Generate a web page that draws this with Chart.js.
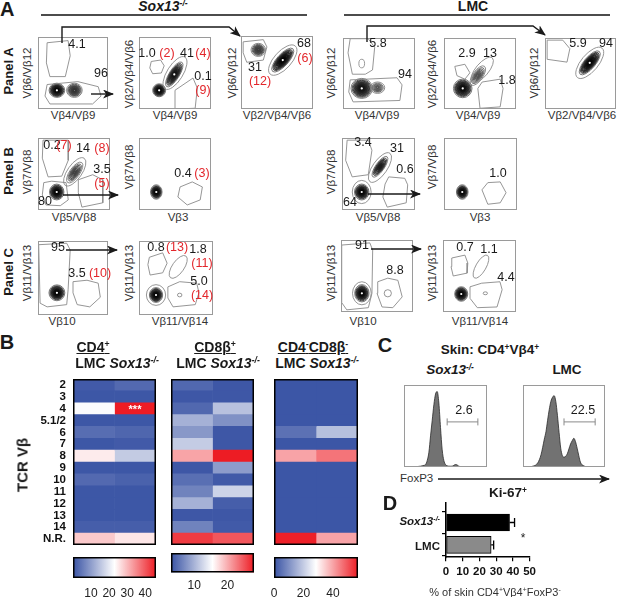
<!DOCTYPE html>
<html>
<head>
<meta charset="utf-8">
<script src="https://cdn.jsdelivr.net/npm/chart.js@4.4.0/dist/chart.umd.min.js"></script>
<style>
  body { margin: 0; width: 617px; height: 597px; position: relative; overflow: hidden; background: #fff;
         font-family: Arial, "Liberation Sans", sans-serif; color: #1a1a1a; }
  canvas { position: absolute; }
  .t { position: absolute; white-space: nowrap; line-height: 1; transform: translate(-50%, -50%); }
  sup { font-size: 62%; vertical-align: 0.55em; line-height: 0; }
  svg { position: absolute; left: 0; top: 0; }
</style>
</head>
<body>
<script>
// ---------- Panel B: TCR Vbeta usage (% of cells) ----------
const vbRows = ['2', '3', '4', '5.1/2', '6', '7', '8', '9', '10', '11', '12', '13', '14', 'N.R.'];
const cd4LMC = [1, 0.5, 22.5, 0.5, 3.5, 0.5, 25, 0.5, 3, 0.5, 0.5, 0.5, 1.5, 28.5];
const cd4Sox = [3, 0.5, 46, 0.5, 2.5, 1, 16, 0.5, 2, 0.5, 0.5, 0.5, 1.5, 25.5];
const cd8LMC = [4.5, 3.3, 4.5, 9.8, 8, 11.8, 20.5, 3.3, 5, 6.5, 9.8, 3.3, 6.5, 26.3];
const cd8Sox = [3.3, 3.3, 11, 7.5, 3.3, 3.3, 28, 8.3, 3.5, 12.3, 3.8, 3.3, 3.5, 24.8];
const dnLMC = [0.5, 0.5, 0.5, 0.5, 5, 0.5, 40, 0.5, 0.5, 0.5, 0.5, 0.5, 0.5, 56.5];
const dnSox = [0.5, 0.5, 0.5, 0.5, 18, 0.5, 46, 0.5, 0.5, 0.5, 0.5, 0.5, 0.5, 40];
const cd4Range = [0, 46], cd8Range = [3, 28], dnRange = [0, 57];
const cd4Ticks = [10, 20, 30, 40], cd8Ticks = [10, 20], dnTicks = [0, 20, 40];

// ---------- Panel C: FoxP3 histograms (% of max) ----------
const foxp3Bins = [0, 5, 10, 12, 15, 18, 20, 22, 24, 26, 28, 30, 32, 34, 36, 38, 40, 42, 44, 46,
                   48, 50, 52, 54, 56, 58, 60, 62, 64, 66, 68, 70, 75, 80, 90, 100];
const sox13Hist = [0, 0, 0, 0, 0.3, 0.8, 1, 1.5, 2, 3, 8, 18, 38, 57, 76, 89, 92, 78, 48, 21,
                   8, 3, 1.5, 1, 1, 1, 2, 3, 2.5, 1, 0.5, 0, 0, 0, 0, 0];
const lmcHist = [0, 0, 0.5, 1, 2, 5, 9, 15, 24, 34, 43, 57, 70, 80, 85, 87, 80, 63, 42, 23,
                 14, 12, 13, 16, 22, 28, 32, 35, 31, 23, 14, 6, 1, 0, 0, 0];
const sox13Gate = [52, 89], lmcGate = [50, 88];
const foxp3Pct = ['2.6', '22.5'];

// ---------- Panel D: Ki-67+ ----------
const ki67Groups = ['Sox13-/-', 'LMC'];
const ki67Mean = [38, 27];
const ki67Sem = [3, 1.5];
const ki67Ticks = [0, 10, 20, 30, 40, 50];

// ---------- Panel A: flow populations [x, y, rx, ry, angle, rings, darkness], plot units 0-100 ----------
const popsSA1 = [[27, 26, 11, 10, 0, 12, 1], [52, 26, 11, 10, 0, 10, 0.7]];
const popsSA2 = [[28, 26, 9, 9, 0, 12, 1], [49, 48, 20, 7, 58, 12, 0.9]];
const popsSA3 = [[24, 81, 10, 9, 0, 9, 0.65], [58, 67, 21, 8, 48, 13, 1]];
const popsLA1 = [[26, 29, 15, 14, 0, 14, 0.9], [48, 30, 10, 8, 0, 7, 0.5], [26, 64, 4, 6, 0, 1, 0.5]];
const popsLA2 = [[26, 29, 13, 13, 0, 13, 0.95], [47, 47, 16, 7, 55, 8, 0.5]];
const popsLA3 = [[63, 65, 21, 8, 50, 13, 1]];
const popsSB1 = [[26, 25, 10, 11, 0, 12, 1], [51, 52, 17, 7, 55, 8, 0.6]];
const popsSB2 = [[24, 25, 8, 10, 0, 11, 1]];
const popsLB1 = [[27, 25, 10, 11, 0, 12, 1], [52, 60, 17, 6, 55, 9, 0.85]];
const popsLB2 = [[25, 25, 8, 10, 0, 11, 1]];
const popsSC1 = [[27, 30, 11, 11, 0, 12, 1]];
const popsSC2 = [[23, 27, 9, 10, 0, 12, 1], [55, 27, 3, 2.5, 0, 1, 0.6]];
const popsLC1 = [[29, 26, 10, 12, 0, 12, 1], [65, 26, 5, 5, 0, 1, 0.6]];
const popsLC2 = [[25, 25, 9, 10, 0, 12, 1], [58, 26, 3, 2, 0, 1, 0.6]];

// gate polygons (vertex lists) and oval gates [cx, cy, rx, ry, angle]
const gatesSA1 = [[[13, 92], [43, 95], [46, 74], [39, 45], [17, 45], [12, 64]],
                  [[13, 34], [57, 38], [86, 31], [90, 18], [78, 7], [17, 7], [10, 18]]];
const gatesSA2 = [[[17, 66], [30, 68], [35, 60], [31, 50], [19, 49], [15, 57]],
                  [[50, 0], [50, 26], [75, 43], [81, 29], [78, 1]]];
const ovalsSA2 = [[50, 50, 26, 11, 58]];
const gatesSA3 = [[[3, 92], [31, 95], [36, 85], [31, 67], [8, 64], [3, 77]]];
const ovalsSA3 = [[58, 67, 26, 12, 48]];
const gatesLA1 = [[[10, 99], [35, 99], [44, 87], [41, 55], [31, 49], [13, 49], [7, 79]],
                  [[10, 41], [75, 44], [82, 34], [79, 12], [14, 10], [8, 24]]];
const gatesLA2 = [[[15, 60], [29, 63], [36, 51], [29, 42], [18, 47]],
                  [[47, 29], [53, 38], [78, 42], [82, 29], [78, 3], [50, 1]]];
const ovalsLA2 = [[53, 55, 22, 9, 50]];
const gatesLA3 = [[[3, 97], [25, 97], [35, 85], [31, 66], [3, 70]]];
const ovalsLA3 = [[63, 65, 27, 12, 50]];
const gatesSB1 = [[[7, 97], [42, 97], [42, 69], [33, 47], [14, 46], [6, 72]],
                  [[56, 42], [76, 49], [90, 42], [90, 10], [61, 4], [56, 24]],
                  [[8, 38], [19, 40], [39, 38], [42, 14], [31, 6], [11, 7], [6, 21]]];
const ovalsSB1 = [[51, 53, 23, 10, 55]];
const gatesSB2 = [[[57, 32], [74, 39], [88, 32], [85, 14], [67, 7], [54, 18]]];
const gatesLB1 = [[[7, 97], [36, 97], [41, 83], [36, 49], [14, 46], [5, 69]],
                  [[59, 36], [64, 46], [86, 44], [90, 35], [88, 10], [62, 4], [56, 18]]];
const ovalsLB1 = [[52, 59, 24, 10, 55], [27, 25, 13, 16, 0]];
const gatesLB2 = [[[52, 28], [60, 38], [77, 39], [85, 24], [77, 10], [60, 8]]];
const gatesSC1 = [[[1, 95], [41, 97], [46, 88], [43, 34], [41, 14], [13, 11], [3, 16]],
                  [[50, 45], [70, 47], [86, 43], [89, 24], [74, 11], [56, 14], [50, 30]]];
const gatesSC2 = [[[14, 78], [32, 84], [38, 70], [32, 57], [15, 54], [12, 68]],
                  [[39, 38], [55, 45], [78, 43], [81, 30], [76, 14], [46, 11], [39, 23]]];
const ovalsSC2 = [[53, 65, 18, 8, 55], [23, 27, 13, 14, 0]];
const gatesLC1 = [[[1, 93], [40, 96], [44, 86], [43, 26], [38, 6], [8, 3], [1, 13]],
                  [[51, 42], [65, 47], [79, 44], [85, 21], [72, 6], [57, 7], [50, 26]]];
const ovalsLC1 = [[29, 26, 13, 16, 0]];
const gatesLC2 = [[[12, 75], [30, 79], [34, 68], [33, 54], [14, 50], [11, 63]],
                  [[37, 35], [53, 40], [78, 42], [81, 31], [74, 7], [47, 6], [37, 19]]];
const ovalsLC2 = [[52, 63, 18, 7, 60]];

// ---------- helpers ----------
function canvasAt(l, t, w, h) {
  const c = document.createElement('canvas');
  c.width = w; c.height = h;
  c.style.left = l + 'px'; c.style.top = t + 'px';
  document.body.appendChild(c);
  return c;
}
function txt(x, y, html, css, anchor) {
  const d = document.createElement('div');
  d.className = 't';
  d.innerHTML = html;
  d.style.cssText = `left:${x}px;top:${y}px;` + (css || '');
  if (anchor === 'left') d.style.transform = 'translate(0,-50%)';
  if (anchor === 'right') d.style.transform = 'translate(-100%,-50%)';
  if (anchor === 'rot') d.style.transform = 'translate(-50%,-50%) rotate(-90deg)';
  document.body.appendChild(d);
  return d;
}
const base = { animation: false, responsive: false, events: [], layout: { padding: 0 } };
const noLegend = { legend: { display: false }, tooltip: { enabled: false } };

function frame(color, width) {
  return {
    id: 'frame',
    afterDraw(chart) {
      const { ctx, chartArea: a } = chart;
      ctx.save();
      ctx.strokeStyle = color; ctx.lineWidth = width;
      ctx.strokeRect(a.left + width / 2, a.top + width / 2, a.width - width, a.height - width);
      ctx.restore();
    }
  };
}

// ---------- flow contour plots ----------
function drawPop(ctx, xs, ys, p) {
  const [cx, cy, rx, ry, ang, n, dark] = p;
  const px = xs.getPixelForValue(cx), py = ys.getPixelForValue(cy);
  const ppu = ((xs.right - xs.left) + (ys.bottom - ys.top)) / 200;
  for (let i = 0; i < n; i++) {
    const k = n === 1 ? 0 : i / (n - 1);
    const f = 1 - 0.86 * Math.pow(k, 0.8);
    const outer = 150 - 45 * dark, inner = 150 * (1 - dark) + 5;
    const g = Math.round(outer + (inner - outer) * Math.pow(k, 0.4));
    ctx.strokeStyle = `rgb(${g},${g},${g})`;
    ctx.lineWidth = n === 1 ? 0.8 : 0.9 + 0.7 * dark * k;
    ctx.beginPath();
    ctx.ellipse(px, py, rx * ppu * f, ry * ppu * f, -ang * Math.PI / 180, 0, Math.PI * 2);
    ctx.stroke();
  }
  if (dark >= 0.9) {
    ctx.fillStyle = '#fff';
    ctx.beginPath(); ctx.arc(px, py, 1.1, 0, Math.PI * 2); ctx.fill();
  }
}

function flowPlot(l, t, w, h, pops, gates, ovals) {
  const cv = canvasAt(l, t, w, h);
  new Chart(cv, {
    type: 'scatter',
    data: {
      datasets: (gates || []).map(g => ({
        data: g.concat([g[0]]).map(v => ({ x: v[0], y: v[1] })),
        showLine: true, borderColor: '#8a8a8a', borderWidth: 0.9, pointRadius: 0, tension: 0
      }))
    },
    options: Object.assign({}, base, {
      scales: {
        x: { type: 'linear', min: 0, max: 100, display: false },
        y: { type: 'linear', min: 0, max: 100, display: false }
      },
      plugins: noLegend
    }),
    plugins: [{
      id: 'contours',
      beforeDatasetsDraw(chart) {
        const { ctx, chartArea: a, scales: { x, y } } = chart;
        ctx.save();
        ctx.beginPath(); ctx.rect(a.left, a.top, a.width, a.height); ctx.clip();
        pops.forEach(p => drawPop(ctx, x, y, p));
        const ppu = (a.width + a.height) / 200;
        ctx.strokeStyle = '#8a8a8a'; ctx.lineWidth = 0.9;
        (ovals || []).forEach(o => {
          ctx.beginPath();
          ctx.ellipse(x.getPixelForValue(o[0]), y.getPixelForValue(o[1]), o[2] * ppu, o[3] * ppu,
                      -o[4] * Math.PI / 180, 0, Math.PI * 2);
          ctx.stroke();
        });
        ctx.restore();
      }
    }, frame('#9a9a9a', 1)]
  });
}

flowPlot(38, 37, 70, 72, popsSA1, gatesSA1);
flowPlot(139, 37, 72, 72, popsSA2, gatesSA2, ovalsSA2);
flowPlot(241, 36, 72, 73, popsSA3, gatesSA3, ovalsSA3);
flowPlot(343, 38, 72, 71, popsLA1, gatesLA1);
flowPlot(444, 38, 72, 71, popsLA2, gatesLA2, ovalsLA2);
flowPlot(545, 38, 71, 71, popsLA3, gatesLA3, ovalsLA3);
flowPlot(38, 138, 72, 72, popsSB1, gatesSB1, ovalsSB1);
flowPlot(139, 138, 72, 72, popsSB2, gatesSB2);
flowPlot(342, 138, 73, 72, popsLB1, gatesLB1, ovalsLB1);
flowPlot(444, 138, 73, 72, popsLB2, gatesLB2);
flowPlot(38, 241, 70, 74, popsSC1, gatesSC1);
flowPlot(139, 241, 74, 74, popsSC2, gatesSC2, ovalsSC2);
flowPlot(341, 240, 72, 72, popsLC1, gatesLC1, ovalsLC1);
flowPlot(443, 240, 73, 72, popsLC2, gatesLC2, ovalsLC2);

// ---------- heatmaps ----------
const blue = [57, 83, 164], white = [255, 255, 255], red = [237, 28, 36];
function heatColor(v, range) {
  const t = Math.max(0, Math.min(1, (v - range[0]) / (range[1] - range[0])));
  const a = t < 0.5 ? blue : white, b = t < 0.5 ? white : red, k = t < 0.5 ? t / 0.5 : (t - 0.5) / 0.5;
  const c = a.map((ch, i) => Math.round(ch + (b[i] - ch) * k));
  return `rgb(${c[0]},${c[1]},${c[2]})`;
}
function heatmap(l, t, w, h, lmc, sox, range, showRows) {
  const lab = showRows ? 44 : 0;
  const cv = canvasAt(l - lab, t, w + lab, h);
  new Chart(cv, {
    type: 'bar',
    data: {
      labels: vbRows,
      datasets: [
        { data: vbRows.map(() => [0, 1]), backgroundColor: lmc.map(v => heatColor(v, range)) },
        { data: vbRows.map(() => [1, 2]), backgroundColor: sox.map(v => heatColor(v, range)) }
      ]
    },
    options: Object.assign({}, base, {
      indexAxis: 'y',
      datasets: { bar: { grouped: false, categoryPercentage: 1, barPercentage: 1, borderWidth: 0 } },
      scales: {
        x: { type: 'linear', min: 0, max: 2, display: false },
        y: {
          display: showRows, offset: true,
          grid: { display: false, drawTicks: false }, border: { display: false },
          ticks: { padding: 7, autoSkip: false, color: '#111', font: { size: 11.5, weight: 'bold', family: 'Arial' } },
          afterFit(s) { s.width = lab; s.paddingTop = 0; s.paddingBottom = 0; }
        }
      },
      plugins: noLegend
    }),
    plugins: [frame('#000', 1.5)]
  });
}
heatmap(73, 379, 83, 166, cd4LMC, cd4Sox, cd4Range, true);
heatmap(171, 379, 83, 166, cd8LMC, cd8Sox, cd8Range, false);
heatmap(274, 379, 84, 166, dnLMC, dnSox, dnRange, false);

// ---------- colour bars ----------
function colorbar(l, t, w, barH, range, ticks, pad) {
  const side = 12;
  const hh = Math.round(barH + pad + 14.4);
  const cv = canvasAt(l - side, t, w + side * 2, hh);
  new Chart(cv, {
    type: 'bar',
    data: { labels: [''], datasets: [{
      data: [range],
      barPercentage: 1, categoryPercentage: 1, borderWidth: 0,
      backgroundColor(c) {
        const a = c.chart.chartArea;
        if (!a) return '#fff';
        const g = c.chart.ctx.createLinearGradient(a.left, 0, a.right, 0);
        g.addColorStop(0, `rgb(${blue})`); g.addColorStop(0.5, '#fff'); g.addColorStop(1, `rgb(${red})`);
        return g;
      }
    }] },
    options: Object.assign({}, base, {
      indexAxis: 'y',
      layout: { padding: { left: side, right: side } },
      scales: {
        x: {
          type: 'linear', min: range[0], max: range[1],
          afterBuildTicks(s) { s.ticks = ticks.map(v => ({ value: v })); },
          grid: { display: false, drawTicks: false }, border: { display: false },
          ticks: { padding: pad, autoSkip: false, maxRotation: 0, color: '#222', font: { size: 12, family: 'Arial' } }
        },
        y: { display: false }
      },
      plugins: noLegend
    }),
    plugins: [frame('#000', 1.5)]
  });
}
colorbar(73, 557, 83, 20, cd4Range, cd4Ticks, 8);
colorbar(171, 553, 83, 19, cd8Range, cd8Ticks, 6);
colorbar(274, 557, 84, 20, dnRange, dnTicks, 8);

// ---------- FoxP3 histograms ----------
function histogram(l, t, w, h, counts, gate) {
  const cv = canvasAt(l, t, w, h);
  new Chart(cv, {
    type: 'line',
    data: { datasets: [
      { data: foxp3Bins.map((x, i) => ({ x, y: counts[i] })), fill: 'origin',
        backgroundColor: '#727272', borderColor: '#2b2b2b', borderWidth: 0.8, pointRadius: 0,
        cubicInterpolationMode: 'monotone' },
      { data: gate.map(x => ({ x, y: 55 })), borderColor: '#8a8a8a', borderWidth: 1,
        pointStyle: 'line', pointRadius: 3.5, rotation: 90, pointBorderColor: '#8a8a8a', pointBorderWidth: 1 }
    ] },
    options: Object.assign({}, base, {
      scales: {
        x: { type: 'linear', min: 0, max: 100, display: false },
        y: { type: 'linear', min: 0, max: 100, display: false }
      },
      plugins: noLegend
    }),
    plugins: [frame('#9a9a9a', 1)]
  });
}
histogram(399, 380, 93, 92, sox13Hist, sox13Gate);
histogram(518, 380, 92, 92, lmcHist, lmcGate);

// ---------- Ki-67 bar chart ----------
new Chart(canvasAt(436, 498, 104, 85), {
  type: 'bar',
  data: { datasets: [{
    data: ki67Mean.map((v, i) => ({ x: v, y: i + 1 })),
    backgroundColor: ['#000', '#8a8a8a'], borderColor: '#000', borderWidth: 1,
    barThickness: 17, borderSkipped: false
  }] },
  options: Object.assign({}, base, {
    indexAxis: 'y',
    layout: { padding: { left: 6, right: 10, top: 5 } },
    scales: {
      x: {
        type: 'linear', min: 0, max: 50,
        afterBuildTicks(s) { s.ticks = ki67Ticks.map(v => ({ value: v })); },
        grid: { drawOnChartArea: false, tickLength: 4, color: '#000', lineWidth: 1.2 },
        border: { color: '#000', width: 1.5 },
        ticks: { padding: 4, autoSkip: false, maxRotation: 0, minRotation: 0, color: '#111',
                 font: { size: 11.5, weight: 'bold', family: 'Arial' } }
      },
      y: {
        type: 'linear', min: 0.13, max: 2.55, reverse: true, offset: false,
        afterBuildTicks(s) { s.ticks = ki67Mean.map((v, i) => ({ value: i + 1 })); },
        grid: { drawOnChartArea: false, tickLength: 4, color: '#000', lineWidth: 1.2 },
        border: { color: '#000', width: 1.5 },
        ticks: { display: false }
      }
    },
    plugins: noLegend
  }),
  plugins: [{
    id: 'errorbars',
    afterDatasetsDraw(chart) {
      const { ctx, scales: { x, y } } = chart;
      ctx.save();
      ctx.strokeStyle = '#000'; ctx.lineWidth = 1.3;
      ki67Mean.forEach((v, i) => {
        const py = y.getPixelForValue(i + 1);
        const x0 = x.getPixelForValue(v), x1 = x.getPixelForValue(v + ki67Sem[i]);
        ctx.beginPath();
        ctx.moveTo(x0, py); ctx.lineTo(x1, py);
        ctx.moveTo(x1, py - 4.5); ctx.lineTo(x1, py + 4.5);
        ctx.stroke();
      });
      ctx.restore();
    }
  }]
});

// ---------- text ----------
const sox = '<i>Sox13</i><sup><i>-/-</i></sup>';
const big = 'font-size:20px;font-weight:bold;';
txt(0, -1, 'A', big, 'left').style.transform = 'none';
txt(163, 6, sox, 'font-size:14px;font-weight:bold;');
txt(473, 6, 'LMC', 'font-size:14px;font-weight:bold;');
txt(8, 71, 'Panel A', 'font-size:13px;font-weight:bold;', 'rot');
txt(8, 171, 'Panel B', 'font-size:13px;font-weight:bold;', 'rot');
txt(8, 272, 'Panel C', 'font-size:13px;font-weight:bold;', 'rot');

const axCss = 'font-size:11.5px;color:#333;';
const xLabels = [
  [73, 116, 'Vβ4/Vβ9'], [175, 116, 'Vβ4/Vβ9'], [277, 116, 'Vβ2/Vβ4/Vβ6'],
  [377, 116, 'Vβ4/Vβ9'], [478, 116, 'Vβ4/Vβ9'], [582, 116, 'Vβ2/Vβ4/Vβ6'],
  [74, 218, 'Vβ5/Vβ8'], [178, 218, 'Vβ3'], [378, 218, 'Vβ5/Vβ8'], [480, 218, 'Vβ3'],
  [62, 322, 'Vβ10'], [180, 322, 'Vβ11/Vβ14'], [363, 322, 'Vβ10'], [480, 322, 'Vβ11/Vβ14']
];
xLabels.forEach(a => txt(a[0], a[1], a[2], axCss));
const yLabels = [
  [28, 73, 'Vβ6/Vβ12'], [130, 74, 'Vβ2/Vβ4/Vβ6'], [233, 73, 'Vβ6/Vβ12'],
  [332, 73, 'Vβ6/Vβ12'], [433, 74, 'Vβ2/Vβ4/Vβ6'], [535, 73, 'Vβ6/Vβ12'],
  [28, 172, 'Vβ7/Vβ8'], [130, 167, 'Vβ7/Vβ8'], [332, 172, 'Vβ7/Vβ8'], [433, 167, 'Vβ7/Vβ8'],
  [28, 273, 'Vβ11/Vβ13'], [130, 273, 'Vβ11/Vβ13'], [332, 273, 'Vβ11/Vβ13'], [433, 273, 'Vβ11/Vβ13']
];
yLabels.forEach(a => txt(a[0], a[1], a[2], axCss, 'rot'));

// gate frequencies (black = value, red = Vbeta group number)
const gateLabels = [
  [77, 44, '4.1', 0], [101, 73, '96', 0],
  [147, 53, '1.0', 0], [167, 53, '(2)', 1], [187, 53, '41', 0], [203, 53, '(4)', 1], [203, 76, '0.1', 0], [203, 90, '(9)', 1],
  [255, 67, '31', 0], [260, 81, '(12)', 1], [304, 43, '68', 0], [305, 58, '(6)', 1],
  [378, 43, '5.8', 0], [405, 74, '94', 0],
  [467, 53, '2.9', 0], [490, 53, '13', 0], [507, 80, '1.8', 0],
  [578, 43, '5.9', 0], [606, 43, '94', 0],
  [52, 145, '0.2', 0], [64, 145, '(7)', 1], [83, 148, '14', 0], [102, 148, '(8)', 1],
  [102, 169, '3.5', 0], [102, 183, '(5)', 1], [45, 201, '80', 0],
  [183, 173, '0.4', 0], [202, 173, '(3)', 1],
  [363, 142, '3.4', 0], [397, 148, '31', 0], [405, 169, '0.6', 0], [350, 202, '64', 0],
  [498, 173, '1.0', 0],
  [58, 247, '95', 0], [77, 273, '3.5', 0], [100, 273, '(10)', 1],
  [156, 247, '0.8', 0], [177, 247, '(13)', 1], [198, 249, '1.8', 0], [202, 263, '(11)', 1],
  [199, 281, '5.0', 0], [202, 295, '(14)', 1],
  [362, 245, '91', 0], [395, 270, '8.8', 0],
  [465, 247, '0.7', 0], [489, 249, '1.1', 0], [506, 277, '4.4', 0]
];
gateLabels.forEach(a => txt(a[0], a[1], a[2], 'font-size:12.5px;' + (a[3] ? 'color:#e3262b;' : '')));

// panel B text
txt(7, 342, 'B', big);
const hdr = 'font-size:14px;font-weight:bold;';
txt(93, 347, '<u>CD4<sup>+</sup></u>', hdr);
txt(215, 347, '<u>CD8β<sup>+</sup></u>', hdr);
txt(313, 347, '<u>CD4<sup>-</sup>CD8β<sup>-</sup></u>', hdr);
txt(117, 363, 'LMC ' + sox, hdr);
txt(218, 363, 'LMC ' + sox, hdr);
txt(317, 363, 'LMC ' + sox, hdr);
txt(22, 465, 'TCR Vβ', 'font-size:15px;font-weight:bold;', 'rot');
txt(135, 409, '***', 'font-size:11px;font-weight:bold;color:#fff;');

// panel C text
txt(385, 345, 'C', big);
txt(490, 350, 'Skin: CD4<sup>+</sup>Vβ4<sup>+</sup>', 'font-size:13.5px;font-weight:bold;');
txt(450, 370, sox, 'font-size:13.5px;font-weight:bold;');
txt(567, 370, 'LMC', 'font-size:13.5px;font-weight:bold;');
txt(464, 410, foxp3Pct[0], 'font-size:12.5px;');
txt(583, 410, foxp3Pct[1], 'font-size:12.5px;');
txt(400, 479, 'FoxP3', 'font-size:11.5px;color:#333;', 'left');

// panel D text
txt(390, 503, 'D', big);
txt(508, 493, 'Ki-67<sup>+</sup>', 'font-size:13.5px;font-weight:bold;');
txt(440, 522, sox, 'font-size:11.5px;font-weight:bold;', 'right');
txt(440, 547, ki67Groups[1], 'font-size:11.5px;font-weight:bold;', 'right');
txt(523, 538, '*', 'font-size:12px;');
txt(495, 592, '% of skin CD4<sup>+</sup>Vβ4<sup>+</sup>FoxP3<sup>-</sup>', 'font-size:11px;color:#333;');

// ---------- lines and arrows ----------
const arrows = [
  [[62, 43], [62, 27], [229, 27], [240, 36]],
  [[367, 42], [367, 26], [533, 26], [545, 35]],
  [[91, 94], [113, 94]],
  [[63, 195], [118, 195]],
  [[66, 250], [117, 250]],
  [[368, 194], [420, 194]],
  [[371, 249], [421, 249]],
  [[438, 479], [609, 479]]
];
let svg = '<svg width="617" height="597"><defs><marker id="ah" markerUnits="userSpaceOnUse" markerWidth="11" markerHeight="9" refX="10" refY="4.5" orient="auto"><path d="M0,0 L11,4.5 L0,9 L3,4.5 z" fill="#1a1a1a"/></marker></defs>';
svg += '<line x1="41" y1="15" x2="307" y2="15" stroke="#111" stroke-width="1.3"/>';
svg += '<line x1="344" y1="15" x2="610" y2="15" stroke="#111" stroke-width="1.3"/>';
arrows.forEach(a => {
  svg += `<polyline points="${a.map(p => p.join(',')).join(' ')}" fill="none" stroke="#1a1a1a" stroke-width="1.4" marker-end="url(#ah)"/>`;
});
svg += '</svg>';
document.body.insertAdjacentHTML('beforeend', svg);
</script>
</body>
</html>
